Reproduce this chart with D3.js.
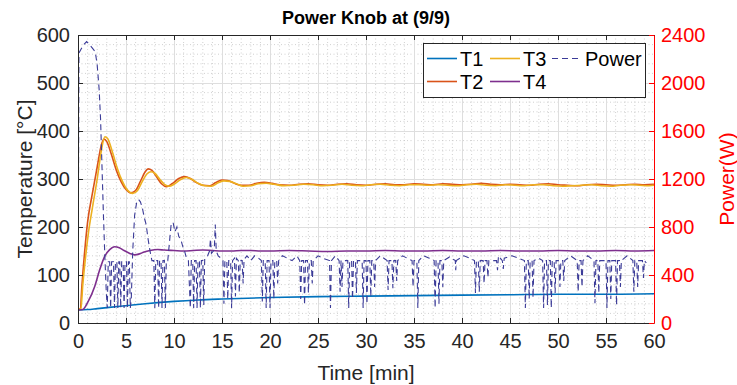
<!DOCTYPE html>
<html>
<head>
<meta charset="utf-8">
<script src="https://cdn.jsdelivr.net/npm/d3@7"></script>
<style>
  body { margin: 0; background: #fff; }
  text { font-family: "Liberation Sans", Arial, sans-serif; }
</style>
</head>
<body>
<script>
// time in minutes, temperatures in °C, power in W
var t1 = [[0,27],[1,28],[2,30],[3,32],[5,36],[7,40],[10,45],[12.5,48],[15,50],[20,53],[25,55],[30,56],[35,57],[40,58],[45,59],[50,60],[55,60],[60,61]];

var t2 = [[0,28],[0.25,30],[0.4,75],[0.7,150],[1.0,210],[1.5,270],[2.0,325],[2.4,368],[2.7,383],[3.0,378],[3.5,350],[4.0,318],[4.5,294],[5.0,278],[5.5,271],[6.0,276],[6.5,295],[7.0,315],[7.3,321],[7.7,318],[8.2,304],[8.7,290],[9.2,284],[9.8,290],[10.5,301],[11.1,305],[11.7,301],[12.3,293],[13,287],[13.7,286],[14.3,292],[15,298],[15.6,297],[16.3,291],[17,287],[17.8,287],[18.6,291],[19.4,293],[20.2,291],[21,288],[22,287],[23,289],[24,290],[25,288],[26,287],[27,289],[28,290],[29,288],[30,287],[31,289],[32,290],[33,288],[34,288],[35,290],[36,289],[37,288],[38,290],[39,289],[40,288],[41,289],[42,291],[43,289],[44,288],[45,289],[46,288],[47,287],[48,289],[49,290],[50,288],[51,287],[52,286],[53,288],[54,289],[55,288],[56,287],[57,288],[58,289],[59,288],[60,289]];

var t3 = [[0,28],[0.3,30],[0.5,80],[0.8,140],[1.1,190],[1.5,240],[2.0,300],[2.4,355],[2.8,388],[3.1,384],[3.6,355],[4.1,322],[4.6,296],[5.1,278],[5.7,270],[6.2,276],[6.7,295],[7.2,311],[7.6,315],[8.0,312],[8.5,300],[9.0,289],[9.5,285],[10,289],[10.7,299],[11.3,303],[11.9,299],[12.5,291],[13.2,286],[13.9,285],[14.6,292],[15.2,296],[15.8,295],[16.5,290],[17.2,285],[18,286],[18.8,290],[19.6,291],[20.4,289],[21.5,286],[22.5,287],[23.5,289],[24.5,288],[25.5,286],[26.5,287],[27.5,289],[28.5,287],[29.5,286],[30.5,288],[31.5,289],[32.5,287],[33.5,286],[34.5,288],[35.5,288],[36.5,287],[37.5,288],[38.5,287],[39.5,286],[40.5,288],[41.5,289],[42.5,287],[43.5,286],[44.5,288],[45.5,287],[46.5,286],[47.5,288],[48.5,288],[49.5,286],[50.5,285],[51.5,286],[52.5,287],[53.5,288],[54.5,286],[55.5,285],[56.5,287],[57.5,288],[58.5,287],[59.5,286],[60,287]];

var t4 = [[0,27],[0.5,28],[1.04,44],[1.74,76],[2.26,111],[2.78,139],[3.3,153],[3.8,159],[4.3,157],[4.8,151],[5.4,145],[5.9,142],[6.4,144],[6.9,148],[7.5,151],[8.3,153],[9,152],[10,151],[11,150],[12,151],[13,152],[14,151],[15,150],[16,150],[17,151],[18,151],[19,150],[20,150],[22,151],[24,150],[26,149],[28,150],[30,150],[32,151],[34,150],[36,150],[38,151],[40,150],[42,150],[44,151],[46,150],[48,150],[50,151],[52,150],[54,150],[56,151],[58,150],[60,151]];

var power = [[0,0],[0.1,2250],[0.3,2280],[0.6,2320],[0.9,2345],[1.2,2320],[1.5,2290],[1.8,2260],[2.0,2150],[2.2,1950],[2.35,1700],[2.5,1300],[2.65,900],[2.8,550],[2.95,250],[3.05,125],
[3.15,510],[3.3,510],[3.4,125],[3.5,510],[3.7,510],[3.8,125],[3.9,510],[4.05,510],[4.15,125],[4.25,510],[4.35,510],[4.45,125],[4.55,510],[4.7,510],[4.8,125],[4.9,510],[5.05,510],[5.15,125],[5.25,510],[5.35,510],[5.45,125],
[5.55,200],[5.7,600],[5.9,900],[6.1,1000],[6.3,1030],[6.5,1010],[6.7,960],[6.9,880],[7.1,820],[7.3,700],[7.5,600],[7.7,520],
[7.9,520],[8.0,125],[8.1,520],[8.3,520],[8.4,125],[8.5,520],[8.65,520],[8.75,125],[8.85,520],[9.0,520],[9.1,125],[9.2,520],[9.35,520],
[9.5,650],[9.7,820],[9.9,840],[10.1,760],[10.3,800],[10.5,720],[10.7,700],[10.9,640],[11.1,600],[11.3,540],[11.5,520],
[11.7,125],[11.8,520],[11.95,520],[12.05,125],[12.15,520],[12.3,520],[12.4,125],[12.5,520],[12.65,520],[12.75,125],[12.85,520],[13.0,520],[13.1,150],[13.2,540],
[13.5,560],[13.7,600],[13.8,700],[13.9,580],[14.1,600],[14.2,620],[14.3,820],[14.4,600],[14.6,560],[14.9,540],
[15.1,520],[15.2,160],[15.3,520],[15.5,520],[15.6,200],[15.7,520],[15.9,520],[16.0,125],[16.1,520],[16.3,540],[16.4,220],[16.5,540],[16.7,520],[16.8,250],[16.9,520],[17.1,520],[17.2,330],[17.3,530],
[17.6,560],[18,520],[18.4,560],[18.8,540],
[19.1,520],[19.2,180],[19.3,520],[19.5,520],[19.6,125],[19.7,520],[19.9,520],[20.0,125],[20.1,520],[20.3,520],[20.4,200],[20.5,520],[20.7,520],[20.8,330],[20.9,520],
[21.3,560],[21.8,540],[22.3,520],[22.8,560],
[23.1,520],[23.2,200],[23.3,520],[23.5,520],[23.6,150],[23.7,520],[23.9,520],[24.0,250],[24.1,520],[24.3,520],[24.4,330],[24.5,520],
[25,560],[25.5,540],[26.2,520],[26.3,125],[26.4,520],[26.8,560],[27.2,520],[27.3,260],[27.4,520],[27.5,300],[27.6,520],
[28.1,520],[28.2,125],[28.3,520],[28.5,520],[28.6,200],[28.7,520],[28.9,520],[29.0,250],[29.1,520],
[29.6,520],[29.7,125],[29.8,520],[30.0,520],[30.1,160],[30.2,520],[30.4,520],[30.5,220],[30.6,520],[30.8,520],[30.9,300],[31.0,520],
[31.5,560],[32.2,520],[32.3,275],[32.4,520],[32.7,520],[32.8,290],[32.9,520],[33.1,520],[33.2,350],[33.3,520],
[33.8,560],[34.3,540],[34.8,520],[34.9,300],[35.0,520],[35.3,520],[35.4,125],[35.5,520],
[36,560],[36.6,540],[37.1,520],[37.2,125],[37.3,520],[37.5,520],[37.6,160],[37.7,520],[37.9,520],[38.0,300],[38.1,520],
[38.7,550],[39.3,520],[39.35,440],[39.4,520],[40.2,560],[40.8,540],
[41.3,520],[41.4,250],[41.5,520],[41.7,520],[41.8,260],[41.9,520],[42.2,520],[42.3,330],[42.4,520],[42.6,520],[42.7,380],[42.8,520],
[43.6,520],[43.7,440],[43.8,560],[44.2,520],[44.3,450],[44.4,540],[45.2,560],[45.9,540],
[46.5,520],[46.6,125],[46.7,520],[46.9,520],[47.0,200],[47.1,520],[47.3,520],[47.4,210],[47.5,520],[48.0,540],
[48.4,520],[48.5,125],[48.6,520],[48.8,520],[48.9,150],[49.0,520],[49.2,520],[49.3,125],[49.4,520],[49.6,520],[49.7,250],[49.8,520],
[50.1,520],[50.2,300],[50.3,520],[50.5,520],[50.6,350],[50.7,520],[51.3,560],
[52.0,520],[52.1,260],[52.2,520],[52.4,520],[52.5,300],[52.6,520],[53.1,560],
[53.75,520],[53.85,165],[53.95,520],[54.15,520],[54.25,250],[54.35,520],
[55.0,520],[55.1,125],[55.2,520],[55.4,520],[55.5,200],[55.6,520],[56.0,520],[56.1,150],[56.2,520],[56.4,520],[56.5,300],[56.6,520],
[57.2,560],[57.8,520],[57.9,260],[58.0,520],[58.2,520],[58.3,300],[58.4,520],[58.8,520],[58.9,375],[59.0,520],[59.2,500]];

var xTicks = d3.range(0, 61, 5);
var yTicks = d3.range(0, 601, 100);
var pTicks = d3.range(0, 2401, 400);

var W = 737, H = 385;
var m = {left: 78, right: 83, top: 35, bottom: 62};
var iw = W - m.left - m.right, ih = H - m.top - m.bottom;

var svg = d3.select("body").append("svg").attr("width", W).attr("height", H);
var g = svg.append("g").attr("transform", "translate(" + m.left + "," + m.top + ")");

var x = d3.scaleLinear().domain([0, 60]).range([0, iw]);
var y = d3.scaleLinear().domain([0, 600]).range([ih, 0]);
var yp = d3.scaleLinear().domain([0, 2400]).range([ih, 0]);

// minor grid (dotted)
g.append("g").selectAll("line").data(d3.range(0, 61, 1).filter(function(d) { return d % 5; }))
  .join("line").attr("x1", d => x(d)).attr("x2", d => x(d)).attr("y1", 0).attr("y2", ih)
  .attr("stroke", "#c4c4c4").attr("stroke-width", 0.8).attr("stroke-dasharray", "1,2.5");
g.append("g").selectAll("line").data(d3.range(0, 601, 20).filter(function(d) { return d % 100; }))
  .join("line").attr("y1", d => y(d)).attr("y2", d => y(d)).attr("x1", 0).attr("x2", iw)
  .attr("stroke", "#c4c4c4").attr("stroke-width", 0.8).attr("stroke-dasharray", "1,2.5");

// major grid
g.append("g").call(d3.axisBottom(x).tickValues(xTicks).tickSize(-ih).tickFormat(""))
  .attr("transform", "translate(0," + ih + ")")
  .call(s => s.select(".domain").remove())
  .selectAll("line").attr("stroke", "#dedede");
g.append("g").call(d3.axisLeft(y).tickValues(yTicks).tickSize(-iw).tickFormat(""))
  .call(s => s.select(".domain").remove())
  .selectAll("line").attr("stroke", "#dedede");

// series
var line = d3.line().x(d => x(d[0])).y(d => y(d[1])).curve(d3.curveMonotoneX);
var pline = d3.line().x(d => x(d[0])).y(d => yp(d[1]));
var plot = g.append("g");
plot.append("clipPath").attr("id", "clip").append("rect").attr("width", iw).attr("height", ih);
var series = [
  {name: "T1", data: t1, color: "#0072BD"},
  {name: "T2", data: t2, color: "#D95319"},
  {name: "T3", data: t3, color: "#EDB120"},
  {name: "T4", data: t4, color: "#7E2F8E"}
];
series.forEach(function(s) {
  plot.append("path").datum(s.data).attr("d", line).attr("fill", "none")
    .attr("stroke", s.color).attr("stroke-width", 1.6).attr("clip-path", "url(#clip)");
});
plot.append("path").datum(power).attr("d", pline).attr("fill", "none")
  .attr("stroke", "#3b3b98").attr("stroke-width", 1.1).attr("stroke-dasharray", "6,4")
  .attr("clip-path", "url(#clip)");

// axes
var axCol = "#262626";
function styleAxis(sel, col) {
  sel.select(".domain").attr("stroke", col);
  sel.selectAll(".tick line").attr("stroke", col);
  sel.selectAll(".tick text").attr("fill", col).style("font-size", "20px");
}
g.append("g").attr("transform", "translate(0," + ih + ")")
  .call(d3.axisBottom(x).tickValues(xTicks).tickSize(-5).tickPadding(11).tickSizeOuter(0))
  .call(styleAxis, axCol);
g.append("g")
  .call(d3.axisTop(x).tickValues(xTicks).tickSize(-5).tickFormat("").tickSizeOuter(0))
  .call(styleAxis, axCol);
g.append("g")
  .call(d3.axisLeft(y).tickValues(yTicks).tickSize(-5).tickPadding(8).tickSizeOuter(0))
  .call(styleAxis, axCol);
g.append("g").attr("transform", "translate(" + iw + ",0)")
  .call(d3.axisRight(yp).tickValues(pTicks).tickSize(-5).tickPadding(7).tickSizeOuter(0)
    .tickFormat(d3.format("d")))
  .call(styleAxis, "#ff0000");

// labels
svg.append("text").attr("x", m.left + iw / 2).attr("y", 24).attr("text-anchor", "middle")
  .style("font-size", "18px").style("font-weight", "bold").attr("fill", "#000")
  .text("Power Knob at (9/9)");
svg.append("text").attr("x", m.left + iw / 2).attr("y", 380).attr("text-anchor", "middle")
  .style("font-size", "21px").attr("fill", axCol).text("Time [min]");
svg.append("text").attr("transform", "translate(32," + (m.top + ih / 2) + ") rotate(-90)")
  .attr("text-anchor", "middle").style("font-size", "21px").attr("fill", axCol)
  .text("Temperature [°C]");
svg.append("text").attr("transform", "translate(734," + (m.top + ih / 2) + ") rotate(-90)")
  .attr("text-anchor", "middle").style("font-size", "21px").attr("fill", "#ff0000")
  .text("Power(W)");

// legend
var leg = svg.append("g");
leg.append("rect").attr("x", 423.5).attr("y", 43.5).attr("width", 222).attr("height", 54)
  .attr("fill", "#fff").attr("stroke", axCol).attr("stroke-width", 1);
var legItems = [
  {name: "T1", color: "#0072BD", col: 0, row: 0},
  {name: "T2", color: "#D95319", col: 0, row: 1},
  {name: "T3", color: "#EDB120", col: 1, row: 0},
  {name: "T4", color: "#7E2F8E", col: 1, row: 1},
  {name: "Power", color: "#3b3b98", col: 2, row: 0, dash: "6,4"}
];
var colX = [427, 490, 552];
legItems.forEach(function(d) {
  var ly = 58.5 + d.row * 23;
  leg.append("line").attr("x1", colX[d.col]).attr("x2", colX[d.col] + 30)
    .attr("y1", ly).attr("y2", ly).attr("stroke", d.color)
    .attr("stroke-width", d.dash ? 1.1 : 1.6).attr("stroke-dasharray", d.dash || null);
  leg.append("text").attr("x", colX[d.col] + 33).attr("y", ly + 7.5)
    .style("font-size", "20px").attr("fill", "#000").text(d.name);
});
</script>
</body>
</html>
